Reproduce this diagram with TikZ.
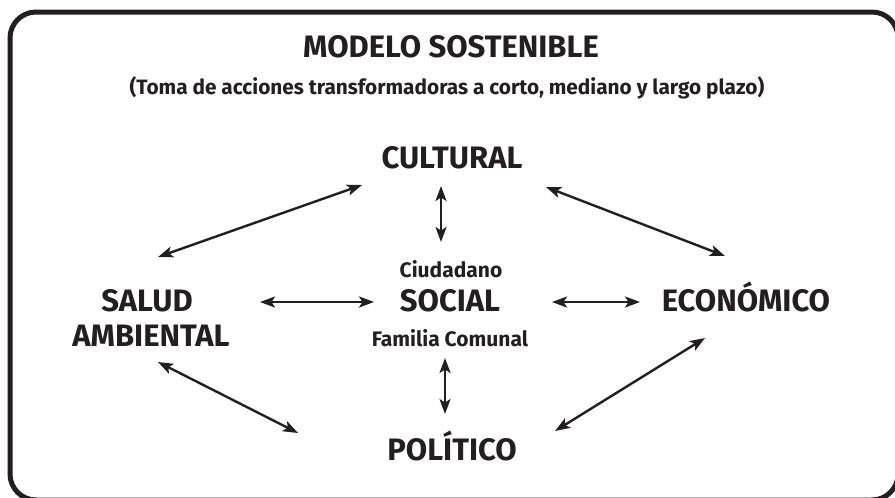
\documentclass[tikz,border=0pt]{standalone}
\usepackage{fontspec}
\setmainfont{Fira Sans}
\usetikzlibrary{arrows.meta}
\definecolor{ink}{HTML}{231F20}
\begin{document}
\begin{tikzpicture}[x=1pt,y=-1pt,
  lbl/.style={text=ink,font=\bfseries\fontsize{31}{36}\selectfont,anchor=base,inner sep=0pt},
  sublbl/.style={text=ink,font=\bfseries\fontsize{21}{25}\selectfont,anchor=base,inner sep=0pt},
  link/.style={draw=ink,line width=2.4pt,{Stealth[length=15pt,width=11pt,inset=3.5pt]}-{Stealth[length=15pt,width=11pt,inset=3.5pt]}}]
\useasboundingbox (0,0) rectangle (895,498);
\draw[ink,line width=5pt,rounded corners=26pt] (10,12) rectangle (898,500);
\node[text=ink,font=\bfseries\fontsize{31}{36}\selectfont,anchor=base,inner sep=0pt] (title) at (451,57) {MODELO SOSTENIBLE};
\node[text=ink,font=\bfseries\fontsize{20.8}{25}\selectfont,anchor=base,inner sep=0pt] (sub) at (447,94) {(Toma de acciones transformadoras a corto, mediano y largo plazo)};
\node[lbl] (cult) at (452,168) {CULTURAL};
\node[sublbl] (ciud) at (451,277) {Ciudadano};
\node[lbl] (soc) at (450,311) {SOCIAL};
\node[sublbl] (fam) at (450,346) {Familia Comunal};
\node[lbl] (eco) at (746,311) {ECONÓMICO};
\node[lbl] (sal) at (147,311) {SALUD};
\node[lbl] (amb) at (151,346) {AMBIENTAL};
\node[lbl] (pol) at (452,460) {POLÍTICO};
\coordinate (a1) at (362,185); \coordinate (a2) at (158,257);
\coordinate (b1) at (546,187); \coordinate (b2) at (725,256);
\coordinate (c1) at (158,362); \coordinate (c2) at (298,433);
\coordinate (d1) at (555,431); \coordinate (d2) at (705,338);
\coordinate (e1) at (441,186); \coordinate (e2) at (441,242);
\coordinate (f1) at (445,358); \coordinate (f2) at (445,414);
\coordinate (g1) at (260,302); \coordinate (g2) at (374,302);
\coordinate (h1) at (552,302); \coordinate (h2) at (640,302);
\draw[link] (a1) -- (a2);
\draw[link] (b1) -- (b2);
\draw[link] (c1) -- (c2);
\draw[link] (d1) -- (d2);
\draw[link] (e1) -- (e2);
\draw[link] (f1) -- (f2);
\draw[link] (g1) -- (g2);
\draw[link] (h1) -- (h2);
\end{tikzpicture}
\end{document}
